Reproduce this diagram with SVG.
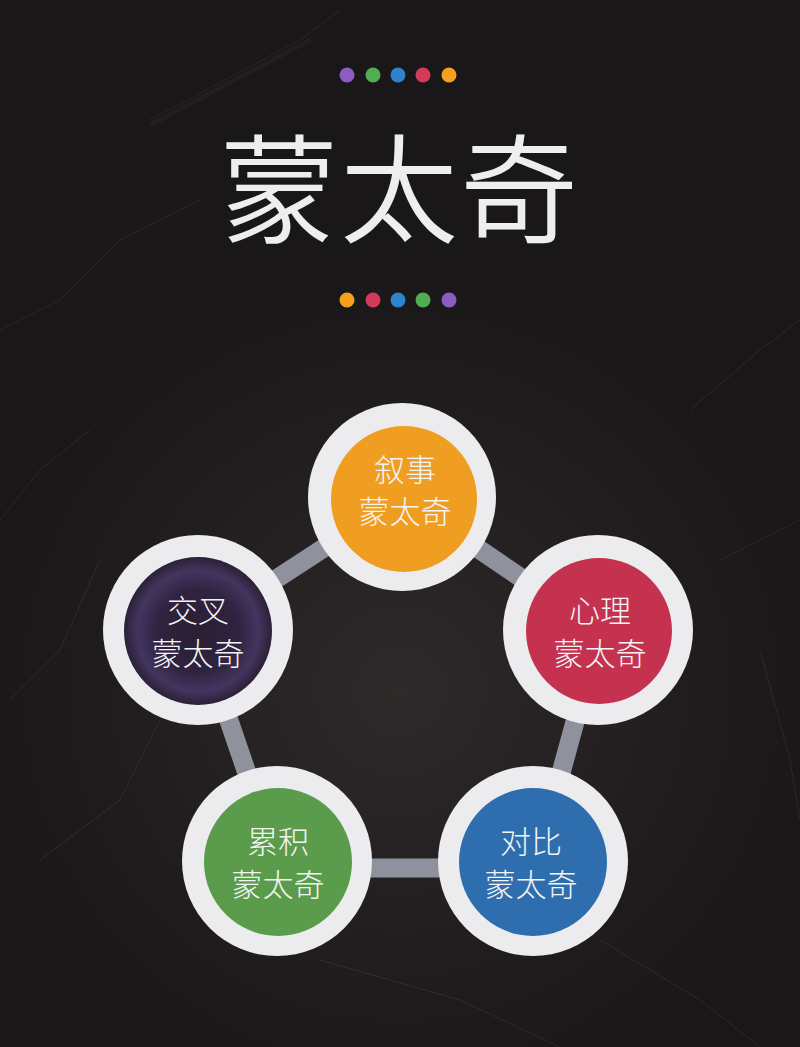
<svg xmlns="http://www.w3.org/2000/svg" width="800" height="1047" viewBox="0 0 800 1047">
  <defs>
    <radialGradient id="bgGlow" cx="400" cy="690" r="420" gradientUnits="userSpaceOnUse">
      <stop offset="0" stop-color="#2e2a2a"/>
      <stop offset="0.6" stop-color="#221e1f"/>
      <stop offset="1" stop-color="#1a1718"/>
    </radialGradient>
    <radialGradient id="purpleFill" cx="0.5" cy="0.5" r="0.5">
      <stop offset="0" stop-color="#2a1f33"/>
      <stop offset="0.55" stop-color="#2f2340"/>
      <stop offset="0.82" stop-color="#43355f"/>
      <stop offset="1" stop-color="#2b2036"/>
    </radialGradient>
    <style>
      .ring { fill: #ececee; }
      .bar { stroke: #8f919d; stroke-width: 19; stroke-linecap: butt; fill: none; }
      .label { font-family: "Noto Sans CJK SC", "Noto Sans", sans-serif; font-size: 31px; font-weight: 300; fill: #f4f4f4; text-anchor: middle; }
      .title { font-family: "Noto Sans CJK SC", "Noto Sans", sans-serif; font-size: 118px; font-weight: 350; fill: #eeeeee; text-anchor: middle; letter-spacing: 2px; }
      .crack { stroke: #ffffff; stroke-opacity: 0.07; stroke-width: 1; fill: none; }
    </style>
  </defs>

  <!-- background -->
  <rect x="0" y="0" width="800" height="1047" fill="url(#bgGlow)"/>
  <g id="texture">
    <path class="crack" d="M150 120 L300 40 L340 10"/>
    <path class="crack" d="M0 330 L60 300 L120 240 L200 200"/>
    <path class="crack" d="M0 520 L40 470 L90 430"/>
    <path class="crack" d="M10 700 L60 650 L100 560"/>
    <path class="crack" d="M690 410 L760 350 L800 320"/>
    <path class="crack" d="M720 560 L800 520"/>
    <path class="crack" d="M760 650 L790 760 L800 820"/>
    <path class="crack" d="M320 960 L460 1000 L560 1047"/>
    <path class="crack" d="M600 940 L700 1000 L760 1047"/>
    <path class="crack" d="M40 860 L120 800 L160 720"/>
    <path d="M150 125 L310 40" stroke="#ffffff" stroke-opacity="0.03" stroke-width="5" fill="none"/>
  </g>

  <!-- top dots -->
  <g id="dots-top">
    <circle cx="347" cy="75" r="7.5" fill="#8b5cc4"/>
    <circle cx="373" cy="75" r="7.5" fill="#4fae52"/>
    <circle cx="398" cy="75" r="7.5" fill="#2f82cc"/>
    <circle cx="423" cy="75" r="7.5" fill="#d23c5a"/>
    <circle cx="449" cy="75" r="7.5" fill="#f5a11e"/>
  </g>

  <g id="title">
    <text class="title" x="400" y="234">蒙太奇</text>
  </g>

  <!-- bottom dots -->
  <g id="dots-bottom">
    <circle cx="347" cy="300" r="7.5" fill="#f5a11e"/>
    <circle cx="373" cy="300" r="7.5" fill="#d23c5a"/>
    <circle cx="398" cy="300" r="7.5" fill="#2f82cc"/>
    <circle cx="423" cy="300" r="7.5" fill="#4fae52"/>
    <circle cx="449" cy="300" r="7.5" fill="#8b5cc4"/>
  </g>

  <!-- connectors -->
  <g id="connectors">
    <line class="bar" x1="402" y1="497" x2="598" y2="630"/>
    <line class="bar" x1="600" y1="630" x2="537" y2="861"/>
    <line class="bar" x1="277" y1="868" x2="533" y2="868"/>
    <line class="bar" x1="198" y1="630" x2="277" y2="861"/>
    <line class="bar" x1="402" y1="497" x2="198" y2="630"/>
  </g>

  <g id="node-narrative">
    <circle class="ring" cx="402" cy="497" r="94"/>
    <circle cx="404" cy="499" r="73" fill="#f09e22"/>
    <text class="label" x="405" y="481">叙事</text>
    <text class="label" x="405" y="523">蒙太奇</text>
  </g>

  <g id="node-psychological">
    <circle class="ring" cx="598" cy="630" r="95"/>
    <circle cx="599" cy="631" r="73" fill="#c5324f"/>
    <text class="label" x="600" y="622">心理</text>
    <text class="label" x="600" y="665">蒙太奇</text>
  </g>

  <g id="node-contrast">
    <circle class="ring" cx="533" cy="861" r="95"/>
    <circle cx="533" cy="862" r="74" fill="#2e6eae"/>
    <text class="label" x="531" y="853">对比</text>
    <text class="label" x="531" y="896">蒙太奇</text>
  </g>

  <g id="node-accumulation">
    <circle class="ring" cx="277" cy="861" r="95"/>
    <circle cx="278" cy="862" r="74" fill="#5a9c4b"/>
    <text class="label" x="278" y="853">累积</text>
    <text class="label" x="278" y="896">蒙太奇</text>
  </g>

  <g id="node-cross">
    <circle class="ring" cx="198" cy="630" r="95"/>
    <circle cx="198" cy="631" r="74" fill="url(#purpleFill)"/>
    <text class="label" x="198" y="622">交叉</text>
    <text class="label" x="198" y="665">蒙太奇</text>
  </g>
</svg>
